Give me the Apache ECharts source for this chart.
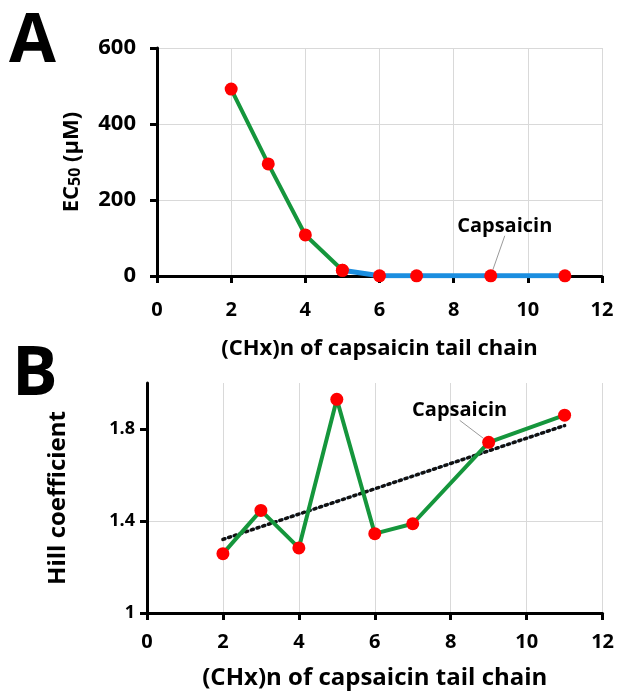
<!DOCTYPE html>
<html>
<head>
<meta charset="utf-8">
<script src="https://cdn.jsdelivr.net/npm/echarts@6/dist/echarts.min.js"></script>
<style>
  html, body { margin: 0; padding: 0; background: #fff; }
  #main { width: 617px; height: 695px; }
</style>
</head>
<body>
<div id="main"></div>
<script>
// panel A: EC50 vs chain length
var ecGreenX = [2, 3, 4, 5];
var ecGreenY = [492, 295, 108, 15];
var ecBlueX = [5, 6, 7, 9, 11];
var ecBlueY = [15, 0.5, 0.5, 0.5, 0.5];

// panel B: Hill coefficient vs chain length
var hillX = [2, 3, 4, 5, 6, 7, 9, 11];
var hillY = [1.258, 1.446, 1.283, 1.929, 1.345, 1.388, 1.742, 1.86];
var trendX = [2, 11];
var trendY = [1.32, 1.815];

var capsaicinX = 9;

var FONT = 'Open Sans';
var GREEN = '#15963c';
var BLUE = '#1b8ee0';
var RED = '#ff0000';

function pairs(xs, ys) {
    return xs.map(function (x, i) { return [x, ys[i]]; });
}

// mark the capsaicin point with a label + leader line
function withLabel(xs, ys) {
    return xs.map(function (x, i) {
        if (x !== capsaicinX) return [x, ys[i]];
        return {
            value: [x, ys[i]],
            label: { show: true, formatter: 'Capsaicin' }
        };
    });
}

function xAxis(gridIndex, nameGap, nameSize, margin) {
    return {
        type: 'value',
        gridIndex: gridIndex,
        min: 0, max: 12, interval: 2,
        name: '(CHx)n of capsaicin tail chain',
        nameLocation: 'middle',
        nameGap: nameGap,
        nameTextStyle: { fontFamily: FONT, fontWeight: 'bold', fontSize: nameSize, color: '#000' },
        axisLine: { lineStyle: { color: '#000', width: 3 } },
        axisTick: { show: true, inside: false, length: 7, lineStyle: { color: '#000', width: 3 } },
        axisLabel: { fontFamily: FONT, fontWeight: 'bold', fontSize: 20, color: '#000', margin: margin },
        splitLine: { show: true, lineStyle: { color: '#d9d9d9', width: 1 } }
    };
}

var labelBase = {
    position: 'inside',
    fontFamily: FONT,
    fontWeight: 'bold',
    fontSize: 20,
    color: '#000'
};

var option = {
    animation: false,
    backgroundColor: '#fff',
    graphic: [
        { type: 'text', left: 9, top: 9, style: { text: 'A', font: 'bold 68px "Open Sans"', fill: '#000' } },
        { type: 'text', left: 12, top: 342, style: { text: 'B', font: 'bold 68px "Open Sans"', fill: '#000' } }
    ],
    grid: [
        { left: 157, top: 48, width: 445, height: 228 },
        { left: 147, top: 383, width: 456, height: 230 }
    ],
    xAxis: [
        xAxis(0, 62, 22, 24),
        xAxis(1, 53, 24, 19)
    ],
    yAxis: [{
        type: 'value',
        gridIndex: 0,
        min: 0, max: 600, interval: 200,
        name: 'EC{s|50} (μM)',
        nameLocation: 'middle',
        nameGap: 74,
        nameTextStyle: {
            fontFamily: FONT, fontWeight: 'bold', fontSize: 22, color: '#000',
            rich: { s: { fontFamily: FONT, fontWeight: 'bold', fontSize: 16, color: '#000', verticalAlign: 'bottom' } }
        },
        axisLine: { show: true, lineStyle: { color: '#000', width: 3 } },
        axisTick: { show: true, inside: false, length: 7, lineStyle: { color: '#000', width: 3 } },
        axisLabel: { fontFamily: FONT, fontWeight: 'bold', fontSize: 22, color: '#000', margin: 21 },
        splitLine: { show: true, lineStyle: { color: '#d9d9d9', width: 1 } }
    }, {
        type: 'value',
        gridIndex: 1,
        min: 1, max: 2, interval: 0.4,
        name: 'Hill coefficient',
        nameLocation: 'middle',
        nameGap: 77,
        nameTextStyle: { fontFamily: FONT, fontWeight: 'bold', fontSize: 24, color: '#000' },
        axisLine: { show: true, lineStyle: { color: '#000', width: 3 } },
        axisTick: { show: true, inside: false, length: 7, lineStyle: { color: '#000', width: 3 }, customValues: [1, 1.4, 1.8] },
        axisLabel: { fontFamily: FONT, fontWeight: 'bold', fontSize: 18, color: '#000', margin: 12, customValues: [1, 1.4, 1.8] },
        splitLine: { show: true, showMaxLine: false, lineStyle: { color: '#d9d9d9', width: 1 } }
    }],
    series: [{
        type: 'line',
        xAxisIndex: 0, yAxisIndex: 0,
        data: pairs(ecGreenX, ecGreenY),
        lineStyle: { color: GREEN, width: 4 },
        symbol: 'circle', symbolSize: 13,
        itemStyle: { color: RED },
        z: 3
    }, {
        type: 'line',
        xAxisIndex: 0, yAxisIndex: 0,
        data: withLabel(ecBlueX, ecBlueY),
        lineStyle: { color: BLUE, width: 5 },
        symbol: 'circle', symbolSize: 13,
        itemStyle: { color: RED },
        label: labelBase,
        labelLayout: function (p) { return p.dataIndex === 3 ? { dx: 14, dy: -50 } : {}; },
        labelLine: { show: true, lineStyle: { color: '#9a9a9a', width: 1 } },
        z: 4
    }, {
        type: 'line',
        xAxisIndex: 1, yAxisIndex: 1,
        data: pairs(trendX, trendY),
        lineStyle: { color: '#9cc3e6', width: 2 },
        symbol: 'none',
        z: 2
    }, {
        type: 'line',
        xAxisIndex: 1, yAxisIndex: 1,
        data: pairs(trendX, trendY),
        lineStyle: { color: '#111', width: 3.5, type: [2, 4], cap: 'round' },
        symbol: 'none',
        z: 2
    }, {
        type: 'line',
        xAxisIndex: 1, yAxisIndex: 1,
        data: withLabel(hillX, hillY),
        lineStyle: { color: GREEN, width: 4 },
        symbol: 'circle', symbolSize: 13,
        itemStyle: { color: RED },
        label: labelBase,
        labelLayout: function (p) { return p.dataIndex === 6 ? { dx: -29, dy: -32 } : {}; },
        labelLine: { show: true, lineStyle: { color: '#9a9a9a', width: 1 } },
        z: 4
    }]
};

var chart = echarts.init(document.getElementById('main'));
chart.setOption(option);
</script>
</body>
</html>
